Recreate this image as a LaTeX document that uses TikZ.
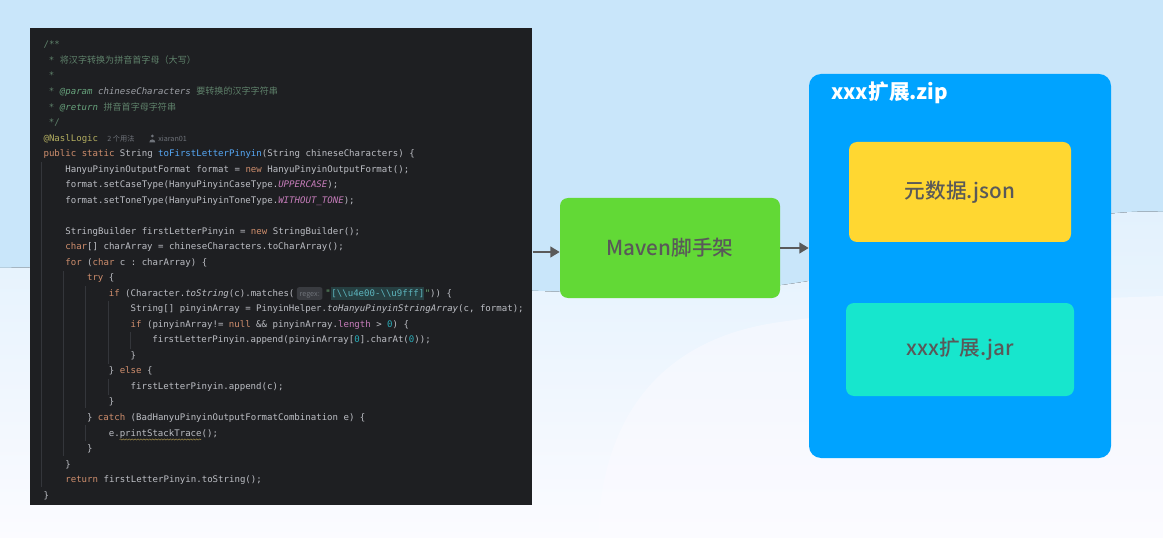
\documentclass[tikz,border=0pt]{standalone}
\usepackage{fontspec}
\usepackage{xcolor}
\usetikzlibrary{arrows.meta,decorations.pathmorphing}

\setmonofont{DejaVu Sans Mono}
\newfontfamily\zhfont{Noto Sans CJK SC}
\newfontfamily\zhmed{Noto Sans CJK SC Medium}

\definecolor{bgtop}{HTML}{C9E6FA}
\definecolor{bgmid}{HTML}{E2F1FD}
\definecolor{bgbot}{HTML}{FBFBFF}
\definecolor{bgwhite}{HTML}{FDFBFF}
\definecolor{codebg}{HTML}{1E1F22}
\definecolor{codefg}{HTML}{BCBEC4}
\definecolor{guide}{HTML}{34363B}
\definecolor{jkwc}{HTML}{CF8E6D}
\definecolor{jcmc}{HTML}{5F826B}
\definecolor{jtagc}{HTML}{67A37C}
\definecolor{jrefc}{HTML}{9DA0A6}
\definecolor{janc}{HTML}{B3AE60}
\definecolor{jfnc}{HTML}{56A8F5}
\definecolor{jcsc}{HTML}{C77DBB}
\definecolor{jnmc}{HTML}{2AACB8}
\definecolor{jstc}{HTML}{6AAB73}
\definecolor{rgxc}{HTML}{5DB5BE}
\definecolor{rgxbg}{HTML}{263F41}
\definecolor{hintfg}{HTML}{6F737A}
\definecolor{hintbg}{HTML}{393B40}
\definecolor{warnc}{HTML}{9E8A4A}
\definecolor{mvnc}{HTML}{62D936}
\definecolor{zipc}{HTML}{00A3FF}
\definecolor{jsonc}{HTML}{FFD731}
\definecolor{jarc}{HTML}{17E6CD}
\definecolor{labelc}{HTML}{595959}
\definecolor{arrowc}{HTML}{5A5A5A}

\newcommand{\jkw}[1]{\textcolor{jkwc}{#1}}
\newcommand{\jcm}[1]{\textcolor{jcmc}{#1}}
\newcommand{\jtag}[1]{\textcolor{jtagc}{\itshape #1}}
\newcommand{\jref}[1]{\textcolor{jrefc}{\itshape #1}}
\newcommand{\jfn}[1]{\textcolor{jfnc}{#1}}
\newcommand{\jcs}[1]{\textcolor{jcsc}{\itshape #1}}
\newcommand{\jfl}[1]{\textcolor{jcsc}{#1}}
\newcommand{\jnm}[1]{\textcolor{jnmc}{#1}}
\newcommand{\jst}[1]{\textcolor{jstc}{#1}}
\newcommand{\jzh}[1]{{\zhfont #1}}
\newcommand{\bsl}{\textbackslash}

\begin{document}
\begin{tikzpicture}[x=0.75pt,y=0.75pt,yscale=-1,xscale=1,
  code/.style={anchor=base west,inner sep=0pt,text=codefg,font=\ttfamily\fontsize{6.8}{8}\selectfont},
  hint/.style={anchor=base west,inner sep=0pt,text=hintfg,font=\zhfont\fontsize{5.4}{6}\selectfont},
  box/.style={inner sep=0pt,rounded corners=6pt,text=labelc,font=\zhmed\fontsize{15.5}{18}\selectfont},
  flow/.style={draw=arrowc,line width=1.5pt,-{Triangle[length=7pt,width=8pt]}}]
\useasboundingbox (0,0) rectangle (1163,538);

%Background
\fill [bgtop] (0,0) rectangle (1163,538);
\fill [top color=bgmid,bottom color=bgbot] (0,268) .. controls (250,262) and (480,300) .. (700,292) .. controls (900,285) and (1040,205) .. (1163,212) -- (1163,538) -- (0,538) -- cycle;
\fill [bgwhite,opacity=0.45] (598,538) .. controls (600,430) and (650,340) .. (780,322) .. controls (900,305) and (1050,300) .. (1163,296) -- (1163,538) -- cycle;

%Shape: Rectangle [code panel]
\draw (30,28) node [anchor=north west,inner sep=0pt,fill=codebg,minimum width=376.5pt,minimum height=357.75pt] (code) {};

%Straight Lines [indent guides]
\draw [guide,line width=0.5pt] (41.7,162) -- (41.7,487);
\draw [guide,line width=0.5pt] (63.3,271) -- (63.3,456);
\draw [guide,line width=0.5pt] (85,286) -- (85,408);
\draw [guide,line width=0.5pt] (85,425) -- (85,441);
\draw [guide,line width=0.5pt] (108.3,301) -- (108.3,364);
\draw [guide,line width=0.5pt] (108.3,379) -- (108.3,395);
\draw [guide,line width=0.5pt] (130,332) -- (130,349);

% Text Node
\draw (43.3,48) node [code] (l1) {\jcm{/**}};
% Text Node
\draw (48.7,63.5) node [code] (l2) {\jcm{* \jzh{将汉字转换为拼音首字母（大写）}}};
% Text Node
\draw (48.7,79) node [code] (l3) {\jcm{*}};
% Text Node
\draw (48.7,94.6) node [code] (l4) {\jcm{* }\jtag{@param} \jref{chineseCharacters} \jcm{\jzh{要转换的汉字字符串}}};
% Text Node
\draw (48.7,110.1) node [code] (l5) {\jcm{* }\jtag{@return} \jcm{\jzh{拼音首字母字符串}}};
% Text Node
\draw (48.7,125.6) node [code] (l6) {\jcm{*/}};
% Text Node
\draw (43.3,141.1) node [code] (l7) {\textcolor{janc}{@NaslLogic}};
% Text Node
\draw (107,141.1) node [hint] (uses) {2 个用法};
% Text Node
\draw (158,141.1) node [hint] (author) {xiaran01};
%Shape: person icon
\fill [hintfg] (152.3,136) circle (1.5);
\fill [hintfg] (149.3,142.4) arc [start angle=180,end angle=360,radius=3] -- cycle;
% Text Node
\draw (43.3,156.6) node [code] (l8) {\jkw{public static} String \jfn{toFirstLetterPinyin}(String chineseCharacters) \{};
% Text Node
\draw (65.1,172.2) node [code] (l9) {HanyuPinyinOutputFormat format = \jkw{new} HanyuPinyinOutputFormat();};
% Text Node
\draw (65.1,187.7) node [code] (l10) {format.setCaseType(HanyuPinyinCaseType.\jcs{UPPERCASE});};
% Text Node
\draw (65.1,203.2) node [code] (l11) {format.setToneType(HanyuPinyinToneType.\jcs{WITHOUT\_TONE});};
% Text Node
\draw (65.1,234.2) node [code] (l13) {StringBuilder firstLetterPinyin = \jkw{new} StringBuilder();};
% Text Node
\draw (65.1,249.8) node [code] (l14) {\jkw{char}[] charArray = chineseCharacters.toCharArray();};
% Text Node
\draw (65.1,265.3) node [code] (l15) {\jkw{for} (\jkw{char} c : charArray) \{};
% Text Node
\draw (86.8,280.8) node [code] (l16) {\jkw{try} \{};
% Text Node
\draw (108.6,296.3) node [code] (l17) {\jkw{if} (Character.\textit{toString}(c).matches(};
% Text Node
\draw ([xshift=1.5]l17.base east) node [hint,fill=hintbg,rounded corners=1.5pt,inner xsep=2pt,inner ysep=1.6pt,text height=5.2pt,text depth=1pt] (rgx) {regex:};
% Text Node
\draw (rgx.east |- l17.base) ++(2.5,0) node [code] (l17b) {\jst{"}};
% Text Node
\draw (l17b.base east) node [code,fill=rgxbg,inner ysep=1.2pt,text height=5.6pt,text depth=1.6pt] (l17c) {\textcolor{rgxc}{[\bsl\bsl u4e00-\bsl\bsl u9fff]}};
% Text Node
\draw (l17c.base east) node [code] (l17d) {\jst{"})) \{};
% Text Node
\draw (130.4,311.8) node [code] (l18) {String[] pinyinArray = PinyinHelper.\textit{toHanyuPinyinStringArray}(c, format);};
% Text Node
\draw (130.4,327.4) node [code] (l19) {\jkw{if} (pinyinArray!= \jkw{null} \&\& pinyinArray.\jfl{length} > \jnm{0}) \{};
% Text Node
\draw (152.1,342.9) node [code] (l20) {firstLetterPinyin.append(pinyinArray[\jnm{0}].charAt(\jnm{0}));};
% Text Node
\draw (130.4,358.4) node [code] (l21) {\}};
% Text Node
\draw (108.6,373.9) node [code] (l22) {\} \jkw{else} \{};
% Text Node
\draw (130.4,389.4) node [code] (l23) {firstLetterPinyin.append(c);};
% Text Node
\draw (108.6,404.9) node [code] (l24) {\}};
% Text Node
\draw (86.8,420.5) node [code] (l25) {\} \jkw{catch} (BadHanyuPinyinOutputFormatCombination e) \{};
% Text Node
\draw (108.6,436) node [code] (l26) {e.printStackTrace();};
% Text Node
\draw (86.8,451.5) node [code] (l27) {\}};
% Text Node
\draw (65.1,467) node [code] (l28) {\}};
% Text Node
\draw (65.1,482.5) node [code] (l29) {\jkw{return} firstLetterPinyin.toString();};
% Text Node
\draw (43.3,498) node [code] (l30) {\}};
%Wavy underline
\draw [warnc,line width=0.4pt,decorate,decoration={snake,amplitude=0.45pt,segment length=2.2pt}] (119.5,439.5) -- (201,439.5);

%Shape: Rounded Rect [Maven]
\draw (670,248) node [box,fill=mvnc,minimum width=165pt,minimum height=75pt] (mvn) {Maven脚手架};
%Shape: Rounded Rect [zip]
\draw (960,266) node [box,fill=zipc,rounded corners=9pt,minimum width=226.5pt,minimum height=288pt] (zip) {};
% Text Node
\draw (831,93) node [anchor=west,inner sep=0pt,text=white,font=\zhfont\bfseries\fontsize{15.5}{18}\selectfont] (ziptitle) {xxx扩展.zip};
%Shape: Rounded Rect [json]
\draw (960,192) node [box,fill=jsonc,minimum width=166.5pt,minimum height=75pt] (json) {元数据.json};
%Shape: Rounded Rect [jar]
\draw (960,349.5) node [box,fill=jarc,minimum width=171pt,minimum height=69.75pt] (jar) {xxx扩展.jar};

%Straight Lines [arrows]
\coordinate (out) at (code.east |- 0,252);
\draw [flow] (out) -- (out -| mvn.west);
\draw [flow] (mvn.east) -- (zip.west |- mvn.east);

\end{tikzpicture}
\end{document}
